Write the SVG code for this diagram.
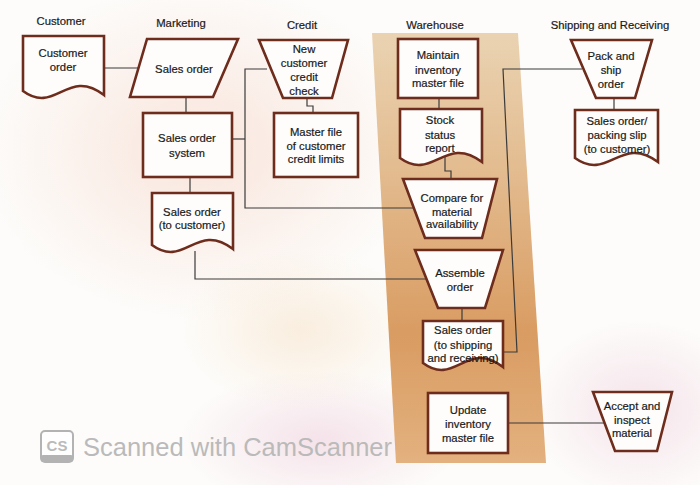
<svg xmlns="http://www.w3.org/2000/svg" width="700" height="485" viewBox="0 0 700 485">
<defs>
<linearGradient id="band" x1="0" y1="0" x2="0" y2="1">
<stop offset="0" stop-color="#ead3b2"/>
<stop offset="0.35" stop-color="#e2b98c"/>
<stop offset="0.7" stop-color="#d99c62"/>
<stop offset="1" stop-color="#e3b17f"/>
</linearGradient>
<radialGradient id="tintA" cx="0.5" cy="0.5" r="0.5">
<stop offset="0" stop-color="#f6d6c8" stop-opacity="0.6"/>
<stop offset="1" stop-color="#f6d6c8" stop-opacity="0"/>
</radialGradient>
<radialGradient id="tintB" cx="0.5" cy="0.5" r="0.5">
<stop offset="0" stop-color="#efd2df" stop-opacity="0.6"/>
<stop offset="1" stop-color="#efd2df" stop-opacity="0"/>
</radialGradient>
<radialGradient id="tintC" cx="0.5" cy="0.5" r="0.5">
<stop offset="0" stop-color="#f7e4cc" stop-opacity="0.6"/>
<stop offset="1" stop-color="#f7e4cc" stop-opacity="0"/>
</radialGradient>
</defs>
<style>
.shape{fill:#fefdfb;stroke:#6e2c1c;stroke-width:2.6;stroke-linejoin:miter}
.t{font-family:"Liberation Sans",Arial,sans-serif;font-size:11.3px;fill:#1a1a1a;stroke:#1a1a1a;stroke-width:0.2;text-anchor:middle}
.lane{font-family:"Liberation Sans",Arial,sans-serif;font-size:11.3px;fill:#1a1a1a;stroke:#1a1a1a;stroke-width:0.2;text-anchor:middle}
.conn path{fill:none;stroke:#3b3b3b;stroke-width:1.2}
.wm{font-family:"Liberation Sans",Arial,sans-serif;fill:#bababa}
</style>
<rect x="0" y="0" width="700" height="485" fill="#fdfcfa"/>
<ellipse cx="200" cy="150" rx="220" ry="170" fill="url(#tintA)"/>
<ellipse cx="320" cy="440" rx="140" ry="70" fill="url(#tintB)"/>
<ellipse cx="640" cy="410" rx="110" ry="90" fill="url(#tintB)"/>
<ellipse cx="300" cy="330" rx="120" ry="80" fill="url(#tintC)"/>
<polygon points="372,33 518,33 546,463 396,463" fill="url(#band)"/>

<g id="lanes">
<text class="lane" x="61" y="25">Customer</text>
<text class="lane" x="181" y="27">Marketing</text>
<text class="lane" x="302" y="29">Credit</text>
<text class="lane" x="435" y="29">Warehouse</text>
<text class="lane" x="610" y="29">Shipping and Receiving</text>
</g>

<g class="conn" id="connectors">
<path d="M104,68 H139"/>
<path d="M186,97 V113"/>
<path d="M190,177 V193"/>
<path d="M195,251 V279 H426"/>
<path d="M232,139 H245"/>
<path d="M267,69 H245 V208 H413"/>
<path d="M307,98 V106 H313 V113"/>
<path d="M439,98 V109"/>
<path d="M445,157 V171 H451 V179"/>
<path d="M462,308 V321"/>
<path d="M503,352 H517 L503,69 H582"/>
<path d="M614,98 V110"/>
<path d="M508,423 H604"/>
</g>

<g id="customer-order">
<path class="shape" d="M23,36 H104 V95 C67.5,67 55.4,115 23,91 Z"/>
<text class="t" x="63" y="57">Customer</text>
<text class="t" x="63" y="71">order</text>
</g>

<g id="sales-order-input">
<polygon class="shape" points="147,39 238,39 213,97 130,97"/>
<text class="t" x="184" y="73">Sales order</text>
</g>

<g id="sales-order-system">
<rect class="shape" x="143" y="113" width="89" height="64"/>
<text class="t" x="187" y="142">Sales order</text>
<text class="t" x="187" y="157">system</text>
</g>

<g id="sales-order-to-customer">
<path class="shape" d="M152,193 H233 V249 C196.5,221 184.4,269 152,245 Z"/>
<text class="t" x="192" y="216">Sales order</text>
<text class="t" x="192" y="229">(to customer)</text>
</g>

<g id="credit-check">
<polygon class="shape" points="259,40 348,40 332,98 283,98"/>
<text class="t" x="304" y="53">New</text>
<text class="t" x="304" y="67">customer</text>
<text class="t" x="304" y="81">credit</text>
<text class="t" x="304" y="95">check</text>
</g>

<g id="credit-master-file">
<rect class="shape" x="274" y="113" width="84" height="64"/>
<text class="t" x="316" y="136">Master file</text>
<text class="t" x="316" y="150">of customer</text>
<text class="t" x="316" y="163">credit limits</text>
</g>

<g id="maintain-inventory">
<rect class="shape" x="398" y="39" width="80" height="59"/>
<text class="t" x="438" y="59">Maintain</text>
<text class="t" x="438" y="74">inventory</text>
<text class="t" x="438" y="87">master file</text>
</g>

<g id="stock-status-report">
<path class="shape" d="M400,109 H482 V162 C445.1,134 432.8,182 400,158 Z"/>
<text class="t" x="440" y="124">Stock</text>
<text class="t" x="440" y="139">status</text>
<text class="t" x="440" y="152">report</text>
</g>

<g id="compare-availability">
<polygon class="shape" points="403,179 497,179 482,238 425,238"/>
<text class="t" x="452" y="202">Compare for</text>
<text class="t" x="452" y="216">material</text>
<text class="t" x="452" y="228">availability</text>
</g>

<g id="assemble-order">
<polygon class="shape" points="415,250 503,250 485,308 438,308"/>
<text class="t" x="460" y="277">Assemble</text>
<text class="t" x="460" y="291">order</text>
</g>

<g id="sales-order-to-shipping">
<path class="shape" d="M423,321 H503 V367 C467,339 455,387 423,363 Z"/>
<text class="t" x="463" y="334">Sales order</text>
<text class="t" x="463" y="349">(to shipping</text>
<text class="t" x="463" y="362">and receiving)</text>
</g>

<g id="update-inventory">
<rect class="shape" x="428" y="393" width="80" height="60"/>
<text class="t" x="468" y="414">Update</text>
<text class="t" x="468" y="428">inventory</text>
<text class="t" x="468" y="442">master file</text>
</g>

<g id="pack-ship">
<polygon class="shape" points="571,40 652,40 635,98 596,98"/>
<text class="t" x="611" y="60">Pack and</text>
<text class="t" x="611" y="74">ship</text>
<text class="t" x="611" y="88">order</text>
</g>

<g id="packing-slip">
<path class="shape" d="M575,110 H658 V162 C620.7,134 608.2,182 575,158 Z"/>
<text class="t" x="617" y="125">Sales order/</text>
<text class="t" x="617" y="139">packing slip</text>
<text class="t" x="617" y="153">(to customer)</text>
</g>

<g id="accept-inspect">
<polygon class="shape" points="593,392 672,392 657,451 615,451"/>
<text class="t" x="632" y="410">Accept and</text>
<text class="t" x="632" y="424">inspect</text>
<text class="t" x="632" y="437">material</text>
</g>

<g id="watermark">
<rect x="41" y="431" width="32" height="31" rx="4" fill="#fefefe" stroke="#b3b3b3" stroke-width="2"/>
<rect x="41" y="455" width="32" height="7" rx="2" fill="#b3b3b3"/>
<text class="wm" x="57" y="451" font-size="15" font-weight="bold" text-anchor="middle">CS</text>
<text class="wm" x="83" y="456" font-size="25.5">Scanned with CamScanner</text>
</g>
</svg>
